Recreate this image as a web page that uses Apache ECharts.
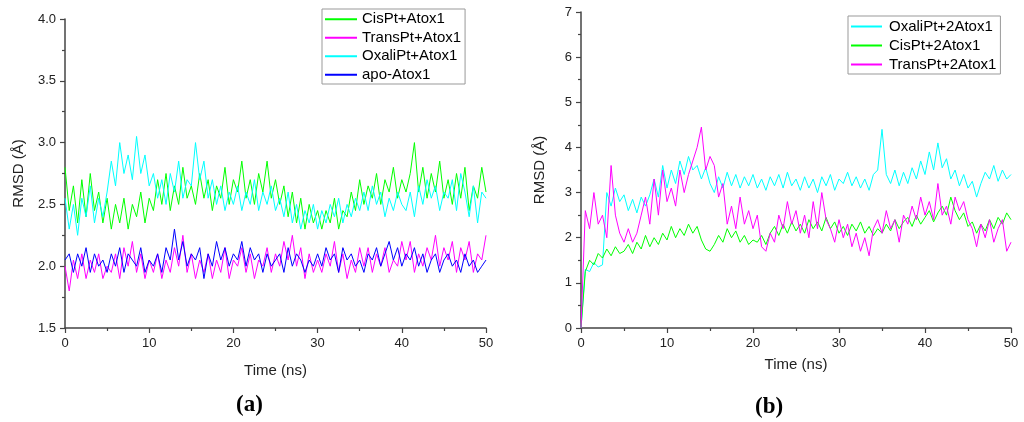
<!DOCTYPE html>
<html>
<head>
<meta charset="utf-8">
<script src="https://cdn.jsdelivr.net/npm/echarts@6/dist/echarts.min.js"></script>
<style>
html,body{margin:0;padding:0;background:#fff;}
#chart{width:1024px;height:422px;}
</style>
</head>
<body>
<div id="chart"></div>
<script>
// Time step between samples (ns)
var timeStep = 0.5;
var xTicks = [0, 10, 20, 30, 40, 50];

// Panel (a) values, t = 0..50 ns every 0.5 ns
var cisPtA = [2.80,2.45,2.65,2.35,2.70,2.40,2.75,2.45,2.60,2.35,2.55,
2.30,2.50,2.35,2.55,2.30,2.50,2.40,2.60,2.35,2.55,
2.45,2.70,2.50,2.75,2.45,2.65,2.50,2.80,2.55,2.65,
2.50,2.75,2.55,2.70,2.45,2.65,2.55,2.80,2.50,2.70,
2.60,2.85,2.55,2.70,2.50,2.75,2.60,2.85,2.55,2.70,
2.50,2.65,2.40,2.60,2.35,2.55,2.30,2.50,2.35,2.45,
2.30,2.45,2.35,2.55,2.30,2.45,2.40,2.60,2.45,2.70,
2.50,2.65,2.55,2.75,2.50,2.70,2.60,2.80,2.55,2.70,
2.60,2.75,3.00,2.60,2.80,2.55,2.75,2.60,2.85,2.55,
2.70,2.50,2.75,2.55,2.80,2.45,2.65,2.55,2.80,2.60];
var transPtA = [2.00,1.80,2.05,1.90,2.10,1.90,2.05,1.95,2.10,1.90,2.00,
1.95,2.10,1.90,2.15,2.00,2.20,1.95,2.10,1.90,2.05,
1.95,2.10,1.90,2.05,1.95,2.15,2.00,2.25,1.95,2.10,
1.90,2.05,1.95,2.10,1.90,2.05,1.95,2.15,1.90,2.05,
2.00,2.15,1.95,2.10,1.90,2.05,2.00,2.15,1.95,2.10,
2.00,2.20,2.05,2.25,2.00,2.15,1.90,2.10,1.95,2.05,
1.95,2.10,2.00,2.20,1.95,2.10,1.90,2.05,1.95,2.15,
2.00,2.15,1.95,2.10,2.00,2.15,1.95,2.05,2.00,2.20,
2.05,2.20,1.95,2.10,2.00,2.15,2.05,2.25,2.00,2.15,
2.05,2.20,1.95,2.15,2.05,2.20,1.95,2.10,2.05,2.25];
var oxaliPtA = [2.55,2.30,2.50,2.25,2.55,2.40,2.65,2.35,2.55,2.40,2.60,
2.85,2.65,3.00,2.75,2.90,2.70,3.05,2.75,2.90,2.65,
2.75,2.55,2.70,2.50,2.75,2.60,2.85,2.55,2.70,2.65,
3.00,2.70,2.85,2.55,2.70,2.50,2.65,2.45,2.60,2.50,
2.65,2.45,2.60,2.50,2.70,2.45,2.60,2.50,2.65,2.45,
2.55,2.40,2.60,2.35,2.50,2.30,2.45,2.35,2.50,2.30,
2.45,2.35,2.50,2.40,2.55,2.35,2.50,2.40,2.55,2.45,
2.60,2.45,2.65,2.50,2.60,2.40,2.55,2.45,2.60,2.50,
2.45,2.60,2.40,2.65,2.50,2.70,2.55,2.65,2.45,2.60,
2.55,2.70,2.45,2.75,2.60,2.40,2.65,2.35,2.60,2.55];
var apoA = [2.05,2.10,1.95,2.10,2.00,2.15,1.95,2.10,2.00,2.05,1.95,
2.10,2.00,2.15,1.95,2.10,2.05,2.00,2.15,1.95,2.05,
2.00,2.10,1.95,2.15,2.05,2.30,2.05,2.20,2.00,2.10,
2.05,2.15,1.90,2.10,2.00,2.20,2.05,2.15,2.00,2.10,
2.05,2.20,2.00,2.15,2.05,2.10,1.95,2.10,2.00,2.05,
2.10,1.95,2.15,2.00,2.10,2.05,1.95,2.05,2.00,2.10,
2.00,2.15,2.05,2.10,1.95,2.15,2.05,2.10,2.00,2.05,
1.95,2.10,2.05,2.15,2.00,2.10,2.20,2.05,2.15,2.00,
2.10,2.05,2.15,2.00,2.10,1.95,2.05,2.10,1.95,2.05,
2.10,2.00,2.05,1.95,2.10,2.00,2.05,1.95,2.00,2.05];

// Panel (b) values, t = 0..50 ns every 0.5 ns
var oxaliPtB = [0.00,1.30,1.25,1.45,1.35,1.40,3.00,2.70,3.10,2.80,2.95,
2.60,2.85,2.55,2.90,2.70,2.95,3.30,2.90,3.60,3.10,
3.50,3.20,3.70,3.40,3.80,3.50,3.60,3.30,3.55,3.20,
3.00,3.35,3.10,3.45,3.15,3.40,3.10,3.35,3.15,3.40,
3.10,3.30,3.05,3.35,3.15,3.40,3.10,3.45,3.15,3.30,
3.05,3.35,3.10,3.30,3.00,3.35,3.15,3.40,3.05,3.30,
3.20,3.45,3.15,3.35,3.10,3.30,3.05,3.40,3.50,4.40,
3.40,3.20,3.50,3.15,3.45,3.20,3.55,3.30,3.70,3.40,
3.90,3.50,4.10,3.55,3.75,3.30,3.50,3.15,3.40,3.10,
3.25,2.90,3.20,3.45,3.30,3.60,3.25,3.50,3.30,3.40];
var cisPtB = [0.00,1.25,1.50,1.40,1.65,1.55,1.75,1.60,1.80,1.65,1.70,
1.85,1.65,1.90,1.75,2.05,1.80,2.00,1.85,2.10,1.95,
2.25,2.00,2.20,2.05,2.30,2.10,2.25,1.95,1.75,1.70,
1.85,2.05,1.90,2.20,2.00,2.15,1.90,2.05,1.85,1.95,
1.90,2.05,1.85,2.10,2.25,2.05,2.30,2.10,2.35,2.15,
2.30,2.10,2.40,2.20,2.35,2.15,2.45,2.20,2.35,2.10,
2.25,2.05,2.30,2.15,2.35,2.10,2.25,2.05,2.20,2.10,
2.30,2.15,2.40,2.20,2.35,2.45,2.25,2.50,2.30,2.45,
2.60,2.35,2.55,2.70,2.50,2.90,2.60,2.40,2.55,2.25,
2.35,2.10,2.30,2.15,2.40,2.20,2.45,2.30,2.55,2.40];
var transPtB = [0.00,2.60,2.20,3.00,2.30,2.50,2.00,3.60,2.50,2.10,1.90,
2.20,1.90,2.10,2.50,2.90,2.30,3.30,2.50,3.50,2.80,
3.10,2.70,3.50,3.00,3.40,3.70,4.00,4.45,3.50,3.80,
3.60,2.90,3.20,2.30,2.70,2.20,2.90,2.30,2.60,2.20,
2.50,1.80,1.70,2.10,1.90,2.50,2.20,2.80,2.30,2.60,
2.10,2.50,2.00,2.80,2.20,3.00,2.40,2.20,1.90,2.40,
2.00,2.30,1.80,2.10,1.70,2.00,1.60,2.20,2.40,2.10,
2.60,2.20,2.40,1.90,2.50,2.30,2.70,2.40,2.90,2.50,
2.80,2.40,3.20,2.50,2.70,2.30,2.90,2.60,2.80,2.40,
2.20,1.80,2.30,2.00,2.40,1.90,2.20,2.40,1.70,1.90];

function pairs(vals){
  var out = [];
  for (var i = 0; i < vals.length; i++) out.push([i * timeStep, vals[i]]);
  return out;
}

var FONT = 'Liberation Sans, Arial, sans-serif';
var axisCommon = {
  axisLine: {show: true, lineStyle: {color: '#444', width: 1.5}},
  axisTick: {show: true, inside: false, length: 5, lineStyle: {color: '#444', width: 1.2}},
  minorTick: {show: true, splitNumber: 2, length: 3, lineStyle: {color: '#444', width: 1.2}},
  splitLine: {show: false},
  axisLabel: {color: '#222', fontSize: 13, fontFamily: FONT, margin: 9},
  nameTextStyle: {color: '#222', fontSize: 15, fontFamily: FONT}
};
function ax(extra){ return Object.assign({}, JSON.parse(JSON.stringify(axisCommon)), extra); }

function line(name, vals, color, xi){
  return {
    name: name, type: 'line', xAxisIndex: xi, yAxisIndex: xi,
    data: pairs(vals), symbol: 'none', showSymbol: false,
    lineStyle: {color: color, width: 1}, itemStyle: {color: color},
    animation: false
  };
}

var legendCommon = {
  orient: 'vertical', icon: 'rect', itemWidth: 32, itemHeight: 2, itemGap: 0,
  borderColor: '#999', borderWidth: 1, padding: [1, 4, 0, 3],
  textStyle: {color: '#000', fontSize: 15, fontFamily: FONT, lineHeight: 18.5, padding: [0, 0, 0, 0]},
  backgroundColor: '#fff'
};

var chart = echarts.init(document.getElementById('chart'));
chart.setOption({
  animation: false,
  backgroundColor: '#fff',
  grid: [
    {left: 65, top: 19, width: 421, height: 309},
    {left: 581, top: 12, width: 430, height: 316}
  ],
  xAxis: [
    ax({type: 'value', gridIndex: 0, min: xTicks[0], max: xTicks[xTicks.length-1], interval: 10,
        name: 'Time (ns)', nameLocation: 'middle', nameGap: 35}),
    ax({type: 'value', gridIndex: 1, min: xTicks[0], max: xTicks[xTicks.length-1], interval: 10,
        name: 'Time (ns)', nameLocation: 'middle', nameGap: 29})
  ],
  yAxis: [
    ax({type: 'value', gridIndex: 0, min: 1.5, max: 4.0, interval: 0.5,
        name: 'RMSD (\u00C5)', nameLocation: 'middle', nameGap: 39,
        axisLabel: {color: '#222', fontSize: 13, fontFamily: FONT, margin: 9,
          formatter: function(v){ return v.toFixed(1); }},
        nameTextStyle: {color: '#222', fontSize: 15, fontFamily: FONT}}),
    ax({type: 'value', gridIndex: 1, min: 0, max: 7, interval: 1,
        name: 'RMSD (\u00C5)', nameLocation: 'middle', nameGap: 34,
        nameTextStyle: {color: '#222', fontSize: 15, fontFamily: FONT}})
  ],
  legend: [
    Object.assign({}, legendCommon, {left: 322, top: 9,
      data: ['CisPt+Atox1', 'TransPt+Atox1', 'OxaliPt+Atox1', 'apo-Atox1']}),
    Object.assign({}, legendCommon, {left: 848, top: 16, itemWidth: 31,
      textStyle: {color: '#000', fontSize: 15, fontFamily: FONT, lineHeight: 19, padding: [0, 0, 0, 2]},
      data: ['OxaliPt+2Atox1', 'CisPt+2Atox1', 'TransPt+2Atox1']})
  ],
  series: [
    line('CisPt+Atox1', cisPtA, '#00ff00', 0),
    line('TransPt+Atox1', transPtA, '#ff00ff', 0),
    line('OxaliPt+Atox1', oxaliPtA, '#00ffff', 0),
    line('apo-Atox1', apoA, '#0000ff', 0),
    line('OxaliPt+2Atox1', oxaliPtB, '#00ffff', 1),
    line('CisPt+2Atox1', cisPtB, '#00ff00', 1),
    line('TransPt+2Atox1', transPtB, '#ff00ff', 1)
  ],
  graphic: [
    {type: 'text', left: 236, top: 394, style: {text: '(a)', font: 'bold 23px "Liberation Serif", "Times New Roman", serif', fill: '#000'}},
    {type: 'text', left: 755, top: 396, style: {text: '(b)', font: 'bold 23px "Liberation Serif", "Times New Roman", serif', fill: '#000'}}
  ]
});
</script>
</body>
</html>
